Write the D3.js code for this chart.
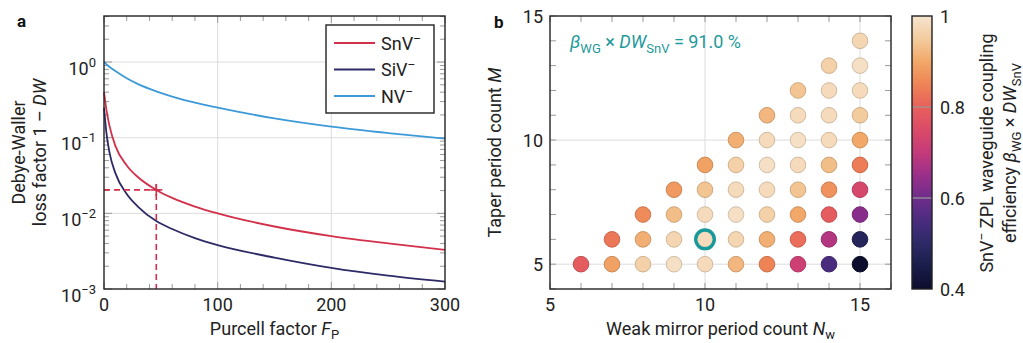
<!DOCTYPE html>
<html>
<head>
<meta charset="utf-8">
<script src="https://cdn.jsdelivr.net/npm/d3@7"></script>
<style>
  body { margin: 0; background: #fff; }
  svg { font-family: Roboto, "Noto Sans", sans-serif; }
</style>
</head>
<body>
<svg id="chart" width="1023" height="343"></svg>
<script>
// ---- panel a data ----
const purcell = [0, 1, 2, 5, 10, 20, 30, 46, 60, 80, 100, 150, 200, 250, 300]
const lossSnV = [0.40, 0.31, 0.24, 0.14, 0.078, 0.043, 0.030, 0.0204, 0.016, 0.0123, 0.0100, 0.0067, 0.0050, 0.0040, 0.0033]
const lossSiV = [0.25, 0.17, 0.12, 0.062, 0.034, 0.018, 0.0122, 0.0079, 0.0062, 0.0047, 0.0038, 0.0026, 0.0019, 0.0015, 0.00125]
const lossNV = [1.0, 0.97, 0.94, 0.86, 0.76, 0.61, 0.51, 0.41, 0.35, 0.29, 0.25, 0.18, 0.14, 0.115, 0.097]
const seriesNames = ['SnV', 'SiV', 'NV']
const seriesColors = ['#d2304b', '#2d2a66', '#3d9ad8']
const markerFp = 46
const markerLoss = 0.0204
const xTicksA = [0, 100, 200, 300]
const yDecadesA = [-3, -2, -1, 0]

// ---- panel b data: one row per taper count M, Nw runs from M+1 to 15 ----
const taperM = [5, 6, 7, 8, 9, 10, 11, 12, 13, 14]
const effRows = [
  [0.79, 0.89, 0.96, 0.99, 0.98, 0.92, 0.85, 0.72, 0.55, 0.40],
  [0.83, 0.91, 0.97, 0.98, 0.97, 0.91, 0.82, 0.68, 0.48],
  [0.86, 0.93, 0.98, 0.99, 0.96, 0.90, 0.79, 0.63],
  [0.88, 0.94, 0.98, 0.98, 0.94, 0.87, 0.74],
  [0.89, 0.96, 0.99, 0.98, 0.93, 0.84],
  [0.91, 0.98, 0.99, 0.98, 0.90],
  [0.92, 0.98, 0.98, 0.95],
  [0.94, 0.98, 0.98],
  [0.96, 0.99],
  [0.97]
]
const best = { nw: 10, m: 6 }
const cbTicks = [1, 0.8, 0.6, 0.4]
const cmapStops = [0.40, 0.45, 0.50, 0.55, 0.60, 0.65, 0.70, 0.75, 0.80, 0.85, 0.90, 0.95, 1.00]
const cmapColors = ['#0c0d2c', '#1a1d4a', '#2c2a66', '#4a2c7e', '#6e2d8a', '#9a2f8a', '#c43a7a',
  '#db4a68', '#e8605c', '#ee8456', '#f1a868', '#f3cc9e', '#f6e4cf']

const svg = d3.select('#chart')
const frameColor = '#222'
const gridColor = '#dcdcdc'
const fs = 18

// ================= panel a =================
const ax = { l: 104, r: 445, t: 16, b: 289 }
const xA = d3.scaleLinear().domain([0, 300]).range([ax.l, ax.r])
const yA = d3.scaleLog().domain([1e-3, 4.06]).range([ax.b, ax.t])

const gA = svg.append('g')

// grid
gA.selectAll('.gx').data([100, 200]).enter().append('line')
  .attr('x1', d => xA(d)).attr('x2', d => xA(d)).attr('y1', ax.t).attr('y2', ax.b)
  .attr('stroke', gridColor)
gA.selectAll('.gy').data([-2, -1, 0]).enter().append('line')
  .attr('x1', ax.l).attr('x2', ax.r).attr('y1', d => yA(Math.pow(10, d))).attr('y2', d => yA(Math.pow(10, d)))
  .attr('stroke', gridColor)

// ticks (inside, all four sides)
const xMinorA = d3.range(0, 301, 20)
xMinorA.forEach(v => {
  const len = v % 100 === 0 ? 7 : 5
  gA.append('line').attr('x1', xA(v)).attr('x2', xA(v)).attr('y1', ax.b).attr('y2', ax.b - len).attr('stroke', '#999')
  gA.append('line').attr('x1', xA(v)).attr('x2', xA(v)).attr('y1', ax.t).attr('y2', ax.t + len).attr('stroke', '#999')
})
const yMinorA = []
for (let e = -3; e <= 0; e++) for (let k = 1; k <= 9; k++) {
  const v = k * Math.pow(10, e)
  if (v <= 4.06) yMinorA.push({ v, major: k === 1 })
}
yMinorA.forEach(d => {
  const len = d.major ? 8 : 5
  gA.append('line').attr('x1', ax.l).attr('x2', ax.l + len).attr('y1', yA(d.v)).attr('y2', yA(d.v)).attr('stroke', '#999')
  gA.append('line').attr('x1', ax.r).attr('x2', ax.r - len).attr('y1', yA(d.v)).attr('y2', yA(d.v)).attr('stroke', '#999')
})

// curves
const lossSets = [lossSnV, lossSiV, lossNV]
const lineA = d3.line()
  .x(d => xA(d[0])).y(d => yA(d[1]))
  .curve(d3.curveMonotoneX)
lossSets.forEach((vals, i) => {
  gA.append('path')
    .datum(purcell.map((p, j) => [p, vals[j]]))
    .attr('d', lineA)
    .attr('fill', 'none')
    .attr('stroke', seriesColors[i])
    .attr('stroke-width', 1.8)
})

// dashed marker
const mx = xA(markerFp), my = yA(markerLoss)
gA.append('line').attr('x1', ax.l).attr('x2', mx + 7).attr('y1', my).attr('y2', my)
  .attr('stroke', seriesColors[0]).attr('stroke-width', 1.6).attr('stroke-dasharray', '6,4')
gA.append('line').attr('x1', mx).attr('x2', mx).attr('y1', my - 6).attr('y2', ax.b)
  .attr('stroke', seriesColors[0]).attr('stroke-width', 1.6).attr('stroke-dasharray', '6,4')
gA.append('line').attr('x1', mx - 6).attr('x2', mx + 6).attr('y1', my).attr('y2', my)
  .attr('stroke', seriesColors[0]).attr('stroke-width', 1.6)
gA.append('line').attr('x1', mx).attr('x2', mx).attr('y1', my - 6).attr('y2', my + 6)
  .attr('stroke', seriesColors[0]).attr('stroke-width', 1.6)

// frame
gA.append('rect').attr('x', ax.l).attr('y', ax.t).attr('width', ax.r - ax.l).attr('height', ax.b - ax.t)
  .attr('fill', 'none').attr('stroke', frameColor).attr('stroke-width', 1.4)

// tick labels
gA.selectAll('.xl').data(xTicksA).enter().append('text')
  .attr('x', d => xA(d)).attr('y', ax.b + 22)
  .attr('text-anchor', 'middle').attr('font-size', fs).attr('fill', '#222')
  .text(d => d)
yDecadesA.forEach(e => {
  const t = gA.append('text')
    .attr('x', 96).attr('y', yA(Math.pow(10, e)) + 12.5)
    .attr('text-anchor', 'end').attr('font-size', fs).attr('fill', '#222')
  t.append('tspan').text('10')
  t.append('tspan').attr('dy', -8).attr('font-size', 13).text(e === 0 ? '0' : '\u2212' + (-e))
})

// axis titles
const xt = gA.append('text').attr('x', (ax.l + ax.r) / 2).attr('y', 335)
  .attr('text-anchor', 'middle').attr('font-size', fs).attr('fill', '#222')
xt.append('tspan').text('Purcell factor ')
xt.append('tspan').attr('font-style', 'italic').text('F')
xt.append('tspan').attr('dy', 4).attr('font-size', 13).text('P')

const cyA = (ax.t + ax.b) / 2
gA.append('text').attr('transform', `translate(25,${cyA}) rotate(-90)`)
  .attr('text-anchor', 'middle').attr('font-size', fs).attr('fill', '#222')
  .text('Debye-Waller')
const yt2 = gA.append('text').attr('transform', `translate(46,${cyA}) rotate(-90)`)
  .attr('text-anchor', 'middle').attr('font-size', fs).attr('fill', '#222')
yt2.append('tspan').text('loss factor 1 \u2013 ')
yt2.append('tspan').attr('font-style', 'italic').text('DW')

// legend
const lg = gA.append('g')
lg.append('rect').attr('x', 326).attr('y', 25).attr('width', 108).attr('height', 88)
  .attr('fill', '#fff').attr('stroke', frameColor).attr('stroke-width', 1.4)
seriesNames.forEach((name, i) => {
  const yy = 43 + i * 26.5
  lg.append('line').attr('x1', 334).attr('x2', 375).attr('y1', yy).attr('y2', yy)
    .attr('stroke', seriesColors[i]).attr('stroke-width', 1.8)
  const t = lg.append('text').attr('x', 381).attr('y', yy + 6.5)
    .attr('font-size', fs).attr('fill', '#222')
  t.append('tspan').text(name)
  t.append('tspan').attr('dy', -7).attr('font-size', 12).text('\u2013')
})

svg.append('text').attr('x', 17).attr('y', 27).attr('font-size', 17).attr('font-weight', 'bold')
  .attr('fill', '#111').text('a')

// ================= panel b =================
const bx = { l: 550, r: 891, t: 16, b: 289 }
const xB = d3.scaleLinear().domain([5, 16]).range([bx.l, bx.r])
const yB = d3.scaleLinear().domain([4, 15]).range([bx.b, bx.t])
const color = d3.scaleLinear().domain(cmapStops).range(cmapColors).interpolate(d3.interpolateRgb).clamp(true)

const gB = svg.append('g')
gB.selectAll('.gx').data([10, 15]).enter().append('line')
  .attr('x1', d => xB(d)).attr('x2', d => xB(d)).attr('y1', bx.t).attr('y2', bx.b).attr('stroke', gridColor)
gB.selectAll('.gy').data([5, 10]).enter().append('line')
  .attr('x1', bx.l).attr('x2', bx.r).attr('y1', d => yB(d)).attr('y2', d => yB(d)).attr('stroke', gridColor)

d3.range(5, 17).forEach(v => {
  gB.append('line').attr('x1', xB(v)).attr('x2', xB(v)).attr('y1', bx.b).attr('y2', bx.b - 6).attr('stroke', '#999')
  gB.append('line').attr('x1', xB(v)).attr('x2', xB(v)).attr('y1', bx.t).attr('y2', bx.t + 6).attr('stroke', '#999')
})
d3.range(4, 16).forEach(v => {
  gB.append('line').attr('x1', bx.l).attr('x2', bx.l + 6).attr('y1', yB(v)).attr('y2', yB(v)).attr('stroke', '#999')
  gB.append('line').attr('x1', bx.r).attr('x2', bx.r - 6).attr('y1', yB(v)).attr('y2', yB(v)).attr('stroke', '#999')
})

const points = []
taperM.forEach((m, i) => {
  effRows[i].forEach((v, j) => points.push({ nw: m + 1 + j, m, v }))
})

gB.selectAll('circle.pt').data(points).enter().append('circle')
  .attr('class', 'pt')
  .attr('cx', d => xB(d.nw)).attr('cy', d => yB(d.m))
  .attr('r', d => (d.nw === best.nw && d.m === best.m) ? 9.3 : 7.8)
  .attr('fill', d => color(d.v))
  .attr('stroke', d => (d.nw === best.nw && d.m === best.m) ? '#17999a' : d3.color(color(d.v)).darker(0.45))
  .attr('stroke-width', d => (d.nw === best.nw && d.m === best.m) ? 3.4 : 1)

gB.append('rect').attr('x', bx.l).attr('y', bx.t).attr('width', bx.r - bx.l).attr('height', bx.b - bx.t)
  .attr('fill', 'none').attr('stroke', frameColor).attr('stroke-width', 1.4)

gB.selectAll('.xl').data([5, 10, 15]).enter().append('text')
  .attr('x', d => xB(d)).attr('y', bx.b + 22)
  .attr('text-anchor', 'middle').attr('font-size', fs).attr('fill', '#222').text(d => d)
gB.selectAll('.yl').data([5, 10, 15]).enter().append('text')
  .attr('x', 543).attr('y', d => yB(d) + 6.5)
  .attr('text-anchor', 'end').attr('font-size', fs).attr('fill', '#222').text(d => d)

const xtb = gB.append('text').attr('x', (bx.l + bx.r) / 2).attr('y', 335)
  .attr('text-anchor', 'middle').attr('font-size', fs).attr('fill', '#222')
xtb.append('tspan').text('Weak mirror period count ')
xtb.append('tspan').attr('font-style', 'italic').text('N')
xtb.append('tspan').attr('dy', 4).attr('font-size', 13).text('w')

const ytb = gB.append('text').attr('transform', `translate(501,${(bx.t + bx.b) / 2}) rotate(-90)`)
  .attr('text-anchor', 'middle').attr('font-size', fs).attr('fill', '#222')
ytb.append('tspan').text('Taper period count ')
ytb.append('tspan').attr('font-style', 'italic').text('M')

// annotation
const ann = gB.append('text').attr('x', 570).attr('y', 48).attr('font-size', fs).attr('fill', '#1e9a9a')
ann.append('tspan').attr('font-style', 'italic').text('\u03b2')
ann.append('tspan').attr('dy', 5).attr('font-size', 13).text('WG')
ann.append('tspan').attr('dy', -5).text(' \u00d7 ')
ann.append('tspan').attr('font-style', 'italic').text('DW')
ann.append('tspan').attr('dy', 5).attr('font-size', 13).text('SnV')
ann.append('tspan').attr('dy', -5).text(' = 91.0 %')

svg.append('text').attr('x', 494).attr('y', 28).attr('font-size', 17).attr('font-weight', 'bold')
  .attr('fill', '#111').text('b')

// ================= colorbar =================
const cb = { l: 912, r: 932, t: 16, b: 289 }
const yC = d3.scaleLinear().domain([0.4, 1]).range([cb.b, cb.t])
const defs = svg.append('defs')
const grad = defs.append('linearGradient').attr('id', 'cmap')
  .attr('x1', 0).attr('y1', 1).attr('x2', 0).attr('y2', 0)
grad.selectAll('stop').data(cmapStops).enter().append('stop')
  .attr('offset', d => (d - 0.4) / 0.6)
  .attr('stop-color', (d, i) => cmapColors[i])
svg.append('rect').attr('x', cb.l).attr('y', cb.t).attr('width', cb.r - cb.l).attr('height', cb.b - cb.t)
  .attr('fill', 'url(#cmap)')
svg.selectAll('.cbt').data([0.8, 0.6]).enter().append('line')
  .attr('x1', cb.l).attr('x2', cb.r).attr('y1', d => yC(d)).attr('y2', d => yC(d))
  .attr('stroke', '#999').attr('stroke-width', 1.2)
svg.append('rect').attr('x', cb.l).attr('y', cb.t).attr('width', cb.r - cb.l).attr('height', cb.b - cb.t)
  .attr('fill', 'none').attr('stroke', frameColor).attr('stroke-width', 1.4)
svg.selectAll('.cbl').data(cbTicks).enter().append('text')
  .attr('x', 940).attr('y', d => yC(d) + 6.5)
  .attr('font-size', fs).attr('fill', '#222').text(d => d)

const cy = 153
const ct1 = svg.append('text').attr('transform', `translate(993,${cy}) rotate(-90)`)
  .attr('text-anchor', 'middle').attr('font-size', fs).attr('fill', '#222')
ct1.append('tspan').text('SnV')
ct1.append('tspan').attr('dy', -7).attr('font-size', 12).text('\u2013')
ct1.append('tspan').attr('dy', 7).text(' ZPL waveguide coupling')
const ct2 = svg.append('text').attr('transform', `translate(1016,${cy}) rotate(-90)`)
  .attr('text-anchor', 'middle').attr('font-size', fs).attr('fill', '#222')
ct2.append('tspan').text('efficiency ')
ct2.append('tspan').attr('font-style', 'italic').text('\u03b2')
ct2.append('tspan').attr('dy', 5).attr('font-size', 13).text('WG')
ct2.append('tspan').attr('dy', -5).text(' \u00d7 ')
ct2.append('tspan').attr('font-style', 'italic').text('DW')
ct2.append('tspan').attr('dy', 5).attr('font-size', 13).text('SnV')
</script>
</body>
</html>
